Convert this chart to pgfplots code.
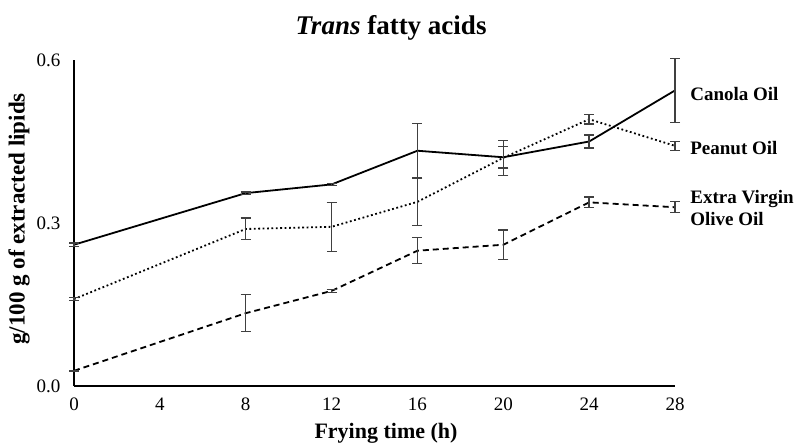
\documentclass[border=0pt]{standalone}
\usepackage{pgfplots}
\pgfplotsset{compat=1.18}
\usepackage{fontspec}
\setmainfont{Liberation Serif}
\definecolor{errc}{HTML}{404040}
\begin{document}
\begin{tikzpicture}[x=1pt,y=1pt]
\useasboundingbox (0,0) rectangle (798,445);
\begin{axis}[
  at={(74pt,59pt)}, anchor=south west,
  scale only axis, width=601pt, height=326pt,
  xmin=0, xmax=28, ymin=0, ymax=0.6,
  axis x line=bottom, axis y line=left,
  axis line style={line width=1.3pt, -},
  xtick={0,4,8,12,16,20,24,28},
  ytick={0,0.3,0.6},
  major tick length=0pt,
  /pgf/number format/assume math mode=true,
  yticklabel style={/pgf/number format/fixed, /pgf/number format/fixed zerofill, /pgf/number format/precision=1, font=\fontsize{19}{21}\selectfont, xshift=-10pt},
  xticklabel style={font=\fontsize{19}{21}\selectfont, yshift=-8pt},
  clip=false,
  error bars/error bar style={color=errc, line width=1.3pt, solid},
  error bars/error mark options={rotate=90, mark size=5pt, color=errc, line width=1.3pt, solid},
]
\addplot[black, line width=1.8pt, solid, mark=none,
  error bars/.cd, y dir=both, y explicit]
  coordinates {
  (0,0.260) +- (0,0.003)
  (8,0.355) +- (0,0.002)
  (12,0.371) +- (0,0.002)
  (16,0.433) +- (0,0.050)
  (20,0.421) +- (0,0.020)
  (24,0.450) +- (0,0.012)
  (28,0.544) +- (0,0.059)
  };
\addplot[black, line width=1.8pt, dash pattern=on 1.8pt off 2.6pt, mark=none,
  error bars/.cd, y dir=both, y explicit]
  coordinates {
  (0,0.160) +- (0,0.003)
  (8,0.289) +- (0,0.020)
  (12,0.293) +- (0,0.045)
  (16,0.339) +- (0,0.043)
  (20,0.420) +- (0,0.032)
  (24,0.491) +- (0,0.009)
  (28,0.442) +- (0,0.008)
  };
\addplot[black, line width=1.8pt, dash pattern=on 6pt off 4pt, mark=none,
  error bars/.cd, y dir=both, y explicit]
  coordinates {
  (0,0.028) +- (0,0.001)
  (8,0.134) +- (0,0.034)
  (12,0.175) +- (0,0.003)
  (16,0.249) +- (0,0.024)
  (20,0.260) +- (0,0.027)
  (24,0.338) +- (0,0.010)
  (28,0.329) +- (0,0.010)
  };
\node[anchor=west, font=\fontsize{19}{21}\selectfont\bfseries] at (axis cs:28.55,0.538) {Canola Oil};
\node[anchor=west, font=\fontsize{19}{21}\selectfont\bfseries] at (axis cs:28.55,0.438) {Peanut Oil};
\node[anchor=west, align=left, font=\fontsize{19}{22}\selectfont\bfseries] at (axis cs:28.55,0.327) {Extra Virgin\\Olive Oil};
\end{axis}
\node[font=\fontsize{27}{30}\selectfont\bfseries] at (391,417) {\textit{Trans} fatty acids};
\node[font=\fontsize{22}{24}\selectfont\bfseries] at (386,12) {Frying time (h)};
\node[rotate=90, font=\fontsize{23}{25}\selectfont\bfseries] at (19,226) {g/100 g of extracted lipids};
\end{tikzpicture}
\end{document}
